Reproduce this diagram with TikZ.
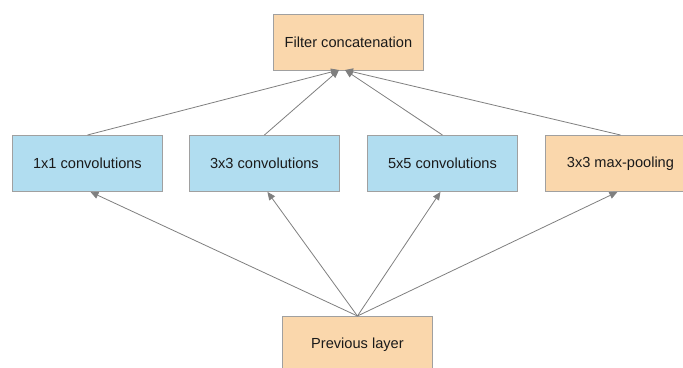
\documentclass[tikz,border=0pt]{standalone}
\usepackage{fontspec}
\setmainfont{Liberation Sans}
\usetikzlibrary{arrows.meta}
\definecolor{peach}{HTML}{FAD7AC}
\definecolor{skyblue}{HTML}{B1DDF0}
\definecolor{edgegray}{HTML}{A0A0A0}
\definecolor{linkgray}{HTML}{7F7F7F}
\definecolor{inkblack}{HTML}{1A1A1A}
\begin{document}
\begin{tikzpicture}[x=1pt,y=-1pt,
  block/.style={draw=edgegray,line width=0.9pt,minimum width=150pt,minimum height=56pt,
    inner sep=0pt,text=inkblack,font=\fontsize{14.6}{16}\selectfont,anchor=north west},
  warm/.style={block,fill=peach},
  cool/.style={block,fill=skyblue},
  link/.style={draw=linkgray,line width=0.8pt,-{Triangle[length=8pt,width=7pt]}}]
\useasboundingbox (0,0) rectangle (683,367);
% output node
\node[warm] (concat) at (273,14) {Filter concatenation};
% parallel branches
\node[cool] (c1) at (12,135) {1x1 convolutions};
\node[cool] (c3) at (189,135) {3x3 convolutions};
\node[cool] (c5) at (367,135) {5x5 convolutions};
\node[warm] (pool) at (545,135) {3x3 max-pooling};
% input node
\node[warm] (prev) at (282,316) {Previous layer};
% convergence points on the concatenation box
\coordinate (inL) at (339,70);
\coordinate (inR) at (345,70);
\draw[link] (c1.north) -- (inL);
\draw[link] (c3.north) -- (inL);
\draw[link] (c5.north) -- (inR);
\draw[link] (pool.north) -- (inR);
% fan-out from the previous layer
\coordinate (outP) at (prev.north);
\draw[link] (outP) -- ([xshift=3pt]c1.south);
\draw[link] (outP) -- ([xshift=3pt]c3.south);
\draw[link] (outP) -- ([xshift=-2pt]c5.south);
\draw[link] (outP) -- ([xshift=-3pt]pool.south);
\end{tikzpicture}
\end{document}
